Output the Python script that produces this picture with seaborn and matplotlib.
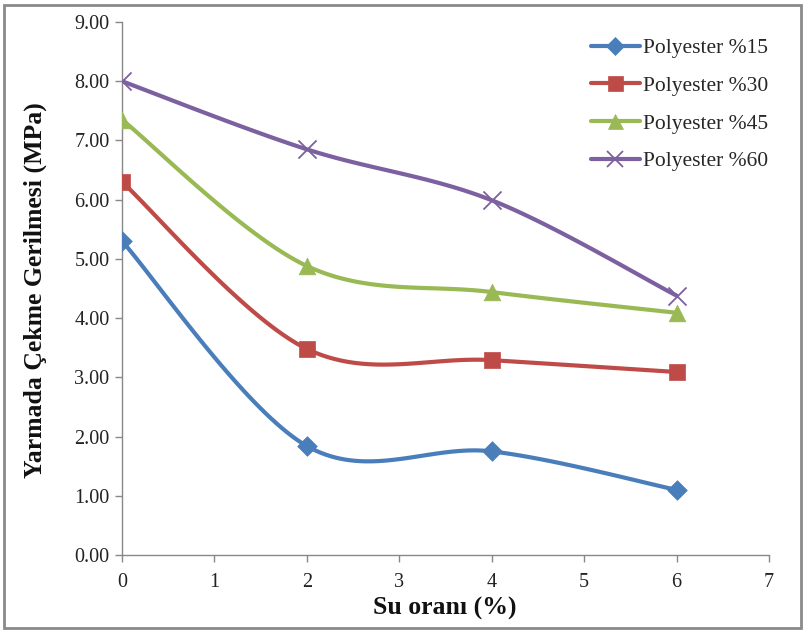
import numpy as np
import pandas as pd
import matplotlib
matplotlib.use("Agg")
import matplotlib.pyplot as plt
from matplotlib.lines import Line2D
from matplotlib.patches import Rectangle
import seaborn as sns

su_orani = [0, 2, 4, 6]
p15 = [5.30, 1.84, 1.75, 1.10]
p30 = [6.30, 3.48, 3.29, 3.09]
p45 = [7.35, 4.88, 4.44, 4.09]
p60 = [8.00, 6.85, 5.99, 4.38]
series_names = ["Polyester %15", "Polyester %30", "Polyester %45", "Polyester %60"]
y_ticks = [0, 1, 2, 3, 4, 5, 6, 7, 8, 9]
x_ticks = [0, 1, 2, 3, 4, 5, 6, 7]

colors = ["#4A7EBB", "#BE4B48", "#98B954", "#7D60A0"]
markers = ["D", "s", "^", "x"]
msizes = [10, 12, 12, 13]


def smooth_curve(x, y, n=40):
    """Cardinal-spline smoothing drawn as cubic Bezier segments."""
    x = np.asarray(x, float)
    y = np.asarray(y, float)
    pts = np.column_stack([x, y])
    out = []
    for i in range(len(pts) - 1):
        p0 = pts[i - 1] if i > 0 else pts[i]
        p1 = pts[i]
        p2 = pts[i + 1]
        p3 = pts[i + 2] if i + 2 < len(pts) else pts[i + 1]
        c1 = p1 + (p2 - p0) / 6.0
        c2 = p2 - (p3 - p1) / 6.0
        t = np.linspace(0, 1, n)[:, None]
        seg = ((1 - t) ** 3) * p1 + 3 * ((1 - t) ** 2) * t * c1 + 3 * (1 - t) * t ** 2 * c2 + t ** 3 * p2
        out.append(seg if i == 0 else seg[1:])
    arr = np.vstack(out)
    return arr[:, 0], arr[:, 1]


sns.set_theme(style="white")
plt.rcParams["font.family"] = ["Liberation Serif", "DejaVu Serif"]

fig = plt.figure(figsize=(8.05, 6.32), dpi=100)
ax = fig.add_axes([122 / 805, 1 - 555 / 632, (769 - 122) / 805, (555 - 22) / 632])

handles = []
for vals, name, c, m, ms in zip([p15, p30, p45, p60], series_names, colors, markers, msizes):
    sx, sy = smooth_curve(su_orani, vals)
    curve = pd.DataFrame({"x": sx, "y": sy})
    sns.lineplot(data=curve, x="x", y="y", ax=ax, color=c, linewidth=3.0, sort=False,
                 estimator=None, legend=False)
    pts = pd.DataFrame({"x": su_orani, "y": vals})
    if m == "x":
        sns.scatterplot(data=pts, x="x", y="y", ax=ax, marker="x", color=c, s=ms ** 2,
                        linewidth=1.3, zorder=5, legend=False)
    else:
        sns.scatterplot(data=pts, x="x", y="y", ax=ax, marker=m, color=c, s=ms ** 2,
                        edgecolor=c, linewidth=0.5, zorder=5, legend=False)
    handles.append(Line2D([0], [0], color=c, lw=3.0, marker=m, markersize=ms * 0.9,
                          markeredgewidth=1.3 if m == "x" else 0.5,
                          markerfacecolor=c, markeredgecolor=c, label=name))

ax.set_xlim(0, 7)
ax.set_ylim(0, 9)
ax.set_xticks(x_ticks)
ax.set_yticks(y_ticks)
ax.set_xticklabels([str(v) for v in x_ticks])
ax.set_yticklabels([f"{v:.2f}" for v in y_ticks])
ax.tick_params(axis="both", labelsize=14.5, colors="#222222", length=5, width=1,
               direction="out", bottom=True, left=True)
ax.tick_params(axis="x", color="#888888", pad=8)
ax.tick_params(axis="y", color="#888888", pad=4)
for side in ["top", "right"]:
    ax.spines[side].set_visible(False)
for side in ["left", "bottom"]:
    ax.spines[side].set_color("#888888")
    ax.spines[side].set_linewidth(1.0)
ax.grid(False)

ax.set_xlabel("Su oranı (%)", fontsize=18.5, fontweight="bold", color="#111111", va="center")
ax.set_ylabel("Yarmada Çekme Gerilmesi (MPa)", fontsize=18.5, fontweight="bold",
              color="#111111", va="center")
ax.xaxis.set_label_coords((445 - 122) / 647, (555 - 608) / 533)
ax.yaxis.set_label_coords((35 - 122) / 647, (555 - 290) / 533)

leg = ax.legend(handles=handles, loc="upper left",
                bbox_to_anchor=((576 - 122) / 647, (555 - 23) / 533),
                frameon=False, fontsize=15.5, handlelength=2.25, handletextpad=0.15,
                labelspacing=0.82, borderpad=0.2)

fig.patches.append(Rectangle((4 / 805, 4 / 632), 797 / 805, 623 / 632, transform=fig.transFigure,
                             fill=False, edgecolor="#8a8a8a", linewidth=2.0))

fig.savefig("out.png", dpi=100)
